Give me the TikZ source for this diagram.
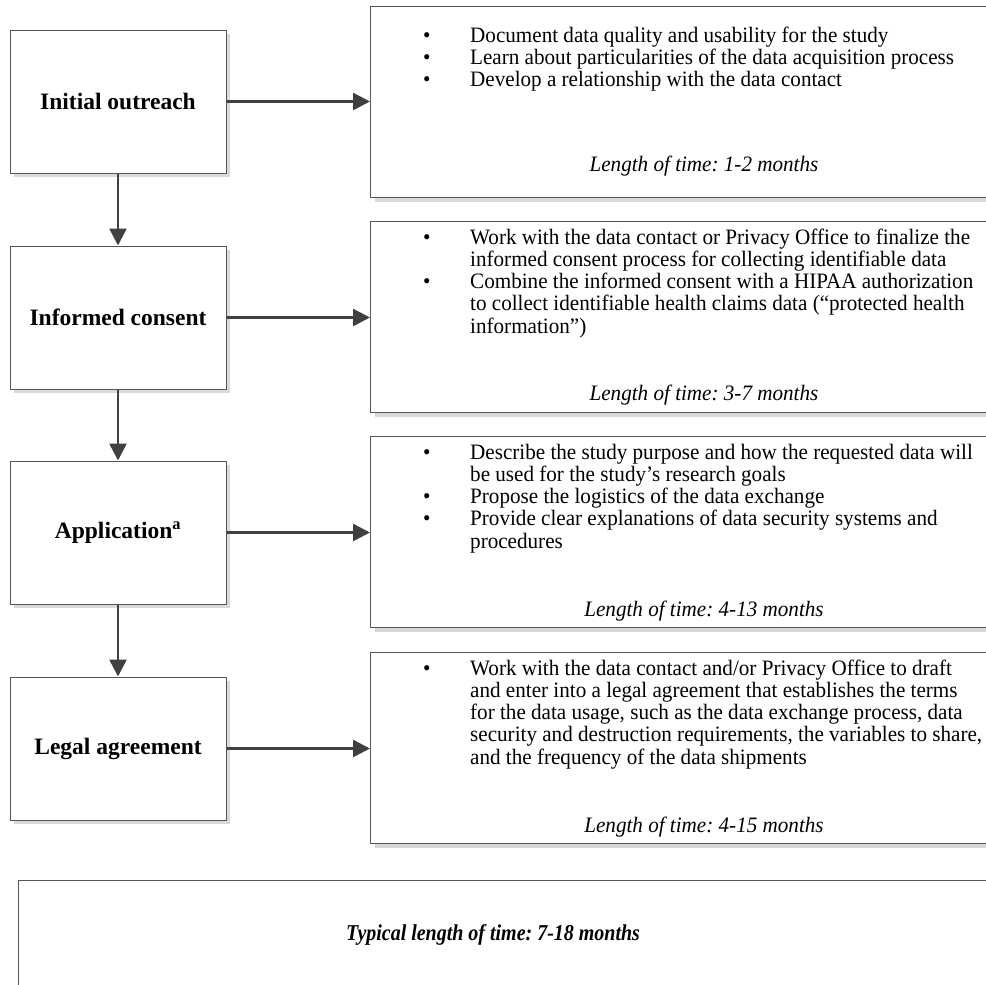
\documentclass[tikz,border=0pt]{standalone}
\usepackage{fontspec}
\setmainfont{Liberation Serif}
\newfontfamily\bodyfont[FakeStretch=0.96]{Liberation Serif}
\usetikzlibrary{arrows.meta,shadows}
\definecolor{boxline}{HTML}{555555}
\definecolor{arrowcol}{HTML}{404040}
\definecolor{shadowcol}{HTML}{D9D9D9}
\frenchspacing
\begin{document}
\begin{tikzpicture}[x=1pt,y=-1pt,
  boxbase/.style={draw=boxline, line width=1pt, fill=white,
    drop shadow={shadow xshift=4pt, shadow yshift=-4pt, fill=shadowcol, opacity=1}},
  stagebox/.style={boxbase, minimum width=216pt, minimum height=143pt, inner sep=0pt,
    font=\fontsize{23.5}{26}\selectfont\bfseries},
  detailbox/.style={boxbase, minimum width=700pt, minimum height=191pt, inner sep=0pt, anchor=north west},
  listtext/.style={anchor=base west, inner sep=0pt, font=\bodyfont\fontsize{22}{22.3}\selectfont},
  timetext/.style={anchor=base, inner sep=0pt, font=\bodyfont\fontsize{22}{22.3}\selectfont\itshape},
  flow/.style={draw=arrowcol, line width=2.5pt, -{Triangle[length=17pt,width=17pt]}}]
\clip (0,0) rectangle (986,985);
\fill[white] (0,0) rectangle (986,985);

% stage boxes
\node[stagebox] (s1) at (118,101.5) {Initial outreach};
\node[stagebox] (s2) at (118,317.5) {Informed consent};
\node[stagebox] (s3) at (118,532.5) {Application\textsuperscript{a}};
\node[stagebox] (s4) at (118,748.5) {Legal agreement};

% detail boxes
\node[detailbox] (d1) at (370,6) {};
\node[detailbox] (d2) at (370,221) {};
\node[detailbox] (d3) at (370,436) {};
\node[detailbox] (d4) at (370,652) {};

% bottom box
\node[boxbase, minimum width=1000pt, minimum height=200pt, anchor=north west, inner sep=0pt] (total) at (18,880) {};
\node[anchor=base, inner sep=0pt, font=\fontsize{22.7}{24}\selectfont\bfseries\itshape] (totaltext) at (493,940) {\scalebox{0.88}[1]{Typical length of time: 7-18 months}};

% detail texts
\node[listtext] (t1) at (423,42) {\begin{tabular}[t]{@{}p{47pt}@{}l@{}}
\textbullet & Document data quality and usability for the study\\
\textbullet & Learn about particularities of the data acquisition process\\
\textbullet & Develop a relationship with the data contact
\end{tabular}};
\node[timetext] (m1) at (704,171) {Length of time: 1-2 months};

\node[listtext] (t2) at (423,244) {\begin{tabular}[t]{@{}p{47pt}@{}l@{}}
\textbullet & Work with the data contact or Privacy Office to finalize the\\
 & informed consent process for collecting identifiable data\\
\textbullet & Combine the informed consent with a HIPAA authorization\\
 & to collect identifiable health claims data (“protected health\\
 & information”)
\end{tabular}};
\node[timetext] (m2) at (704,400) {Length of time: 3-7 months};

\node[listtext] (t3) at (423,459) {\begin{tabular}[t]{@{}p{47pt}@{}l@{}}
\textbullet & Describe the study purpose and how the requested data will\\
 & be used for the study’s research goals\\
\textbullet & Propose the logistics of the data exchange\\
\textbullet & Provide clear explanations of data security systems and\\
 & procedures
\end{tabular}};
\node[timetext] (m3) at (704,616) {Length of time: 4-13 months};

\node[listtext] (t4) at (423,675) {\begin{tabular}[t]{@{}p{47pt}@{}l@{}}
\textbullet & Work with the data contact and/or Privacy Office to draft\\
 & and enter into a legal agreement that establishes the terms\\
 & for the data usage, such as the data exchange process, data\\
 & security and destruction requirements, the variables to share,\\
 & and the frequency of the data shipments
\end{tabular}};
\node[timetext] (m4) at (704,832) {Length of time: 4-15 months};

% connectors
\draw[flow] (s1.east) -- (s1.east -| d1.west);
\draw[flow] (s2.east) -- (s2.east -| d2.west);
\draw[flow] (s3.east) -- (s3.east -| d3.west);
\draw[flow] (s4.east) -- (s4.east -| d4.west);
\draw[flow] (s1.south) -- (s2.north);
\draw[flow] (s2.south) -- (s3.north);
\draw[flow] (s3.south) -- (s4.north);
\end{tikzpicture}
\end{document}
